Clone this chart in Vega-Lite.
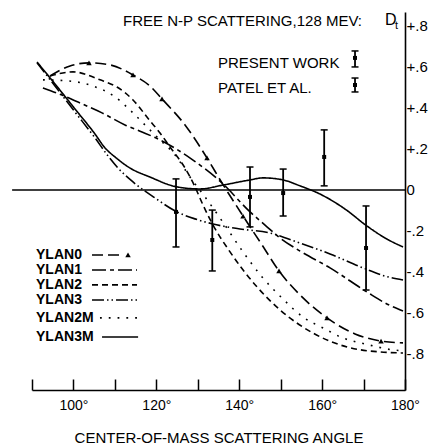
{
  "$schema": "https://vega.github.io/schema/vega-lite/v6.json",
  "width": 373,
  "height": 378,
  "autosize": {"type": "none"},
  "padding": {"left": 32, "right": 26, "top": 12, "bottom": 54},
  "background": "white",
  "config": {
    "view": {"stroke": null},
    "font": "Liberation Sans",
    "axis": {"grid": false, "domainColor": "black", "tickColor": "black", "labelColor": "black", "titleColor": "black"}
  },
  "datasets": {
    "curves": [
      {"series": "YLAN0", "angle": 94.34, "D": 0.556}, {"series": "YLAN0", "angle": 99.17, "D": 0.605}, {"series": "YLAN0", "angle": 103.75, "D": 0.62}, {"series": "YLAN0", "angle": 108.82, "D": 0.61}, {"series": "YLAN0", "angle": 114.37, "D": 0.561}, {"series": "YLAN0", "angle": 118.47, "D": 0.507}, {"series": "YLAN0", "angle": 121.37, "D": 0.444}, {"series": "YLAN0", "angle": 126.92, "D": 0.317}, {"series": "YLAN0", "angle": 132.23, "D": 0.156}, {"series": "YLAN0", "angle": 135.85, "D": 0.034}, {"series": "YLAN0", "angle": 140.92, "D": -0.127}, {"series": "YLAN0", "angle": 145.5, "D": -0.268}, {"series": "YLAN0", "angle": 149.6, "D": -0.395}, {"series": "YLAN0", "angle": 154.67, "D": -0.512}, {"series": "YLAN0", "angle": 161.19, "D": -0.624}, {"series": "YLAN0", "angle": 167.94, "D": -0.702}, {"series": "YLAN0", "angle": 174.22, "D": -0.737}, {"series": "YLAN0", "angle": 179.52, "D": -0.746},
      {"series": "YLAN1", "angle": 92.65, "D": 0.498}, {"series": "YLAN1", "angle": 97.24, "D": 0.463}, {"series": "YLAN1", "angle": 102.07, "D": 0.42}, {"series": "YLAN1", "angle": 106.89, "D": 0.376}, {"series": "YLAN1", "angle": 112.44, "D": 0.317}, {"series": "YLAN1", "angle": 116.54, "D": 0.283}, {"series": "YLAN1", "angle": 120.89, "D": 0.244}, {"series": "YLAN1", "angle": 128.85, "D": 0.146}, {"series": "YLAN1", "angle": 135.85, "D": 0.034}, {"series": "YLAN1", "angle": 142.61, "D": -0.107}, {"series": "YLAN1", "angle": 146.23, "D": -0.171}, {"series": "YLAN1", "angle": 149.85, "D": -0.234}, {"series": "YLAN1", "angle": 154.67, "D": -0.298}, {"series": "YLAN1", "angle": 161.91, "D": -0.38}, {"series": "YLAN1", "angle": 170.84, "D": -0.498}, {"series": "YLAN1", "angle": 175.18, "D": -0.551}, {"series": "YLAN1", "angle": 179.52, "D": -0.59},
      {"series": "YLAN2", "angle": 94.34, "D": 0.556}, {"series": "YLAN2", "angle": 99.89, "D": 0.576}, {"series": "YLAN2", "angle": 106.41, "D": 0.537}, {"series": "YLAN2", "angle": 110.51, "D": 0.502}, {"series": "YLAN2", "angle": 114.37, "D": 0.439}, {"series": "YLAN2", "angle": 118.47, "D": 0.337}, {"series": "YLAN2", "angle": 120.89, "D": 0.278}, {"series": "YLAN2", "angle": 123.3, "D": 0.21}, {"series": "YLAN2", "angle": 126.92, "D": 0.107}, {"series": "YLAN2", "angle": 129.33, "D": 0.015}, {"series": "YLAN2", "angle": 131.26, "D": -0.073}, {"series": "YLAN2", "angle": 133.68, "D": -0.171}, {"series": "YLAN2", "angle": 137.78, "D": -0.302}, {"series": "YLAN2", "angle": 144.3, "D": -0.473}, {"series": "YLAN2", "angle": 149.85, "D": -0.585}, {"series": "YLAN2", "angle": 157.81, "D": -0.698}, {"series": "YLAN2", "angle": 166.01, "D": -0.766}, {"series": "YLAN2", "angle": 173.98, "D": -0.79}, {"series": "YLAN2", "angle": 179.52, "D": -0.795},
      {"series": "YLAN3", "angle": 91.21, "D": 0.62}, {"series": "YLAN3", "angle": 95.55, "D": 0.507}, {"series": "YLAN3", "angle": 100.38, "D": 0.38}, {"series": "YLAN3", "angle": 105.2, "D": 0.254}, {"series": "YLAN3", "angle": 108.34, "D": 0.166}, {"series": "YLAN3", "angle": 110.75, "D": 0.107}, {"series": "YLAN3", "angle": 114.37, "D": 0.039}, {"series": "YLAN3", "angle": 119.68, "D": -0.039}, {"series": "YLAN3", "angle": 124.99, "D": -0.107}, {"series": "YLAN3", "angle": 129.33, "D": -0.141}, {"series": "YLAN3", "angle": 133.68, "D": -0.166}, {"series": "YLAN3", "angle": 140.19, "D": -0.19}, {"series": "YLAN3", "angle": 147.43, "D": -0.21}, {"series": "YLAN3", "angle": 154.67, "D": -0.259}, {"series": "YLAN3", "angle": 161.91, "D": -0.312}, {"series": "YLAN3", "angle": 169.87, "D": -0.38}, {"series": "YLAN3", "angle": 175.18, "D": -0.42}, {"series": "YLAN3", "angle": 179.52, "D": -0.439},
      {"series": "YLAN2M", "angle": 92.65, "D": 0.537}, {"series": "YLAN2M", "angle": 98.69, "D": 0.532}, {"series": "YLAN2M", "angle": 104.72, "D": 0.507}, {"series": "YLAN2M", "angle": 110.03, "D": 0.454}, {"series": "YLAN2M", "angle": 113.65, "D": 0.39}, {"series": "YLAN2M", "angle": 117.27, "D": 0.317}, {"series": "YLAN2M", "angle": 120.89, "D": 0.244}, {"series": "YLAN2M", "angle": 124.51, "D": 0.171}, {"series": "YLAN2M", "angle": 128.13, "D": 0.063}, {"series": "YLAN2M", "angle": 132.47, "D": -0.054}, {"series": "YLAN2M", "angle": 135.85, "D": -0.151}, {"series": "YLAN2M", "angle": 140.92, "D": -0.302}, {"series": "YLAN2M", "angle": 145.5, "D": -0.424}, {"series": "YLAN2M", "angle": 150.33, "D": -0.527}, {"series": "YLAN2M", "angle": 155.4, "D": -0.62}, {"series": "YLAN2M", "angle": 160.22, "D": -0.673}, {"series": "YLAN2M", "angle": 165.05, "D": -0.722}, {"series": "YLAN2M", "angle": 170.36, "D": -0.751}, {"series": "YLAN2M", "angle": 177.11, "D": -0.78}, {"series": "YLAN2M", "angle": 179.52, "D": -0.785},
      {"series": "YLAN3M", "angle": 91.21, "D": 0.624}, {"series": "YLAN3M", "angle": 95.55, "D": 0.517}, {"series": "YLAN3M", "angle": 100.38, "D": 0.395}, {"series": "YLAN3M", "angle": 105.2, "D": 0.273}, {"series": "YLAN3M", "angle": 107.62, "D": 0.205}, {"series": "YLAN3M", "angle": 110.03, "D": 0.161}, {"series": "YLAN3M", "angle": 113.65, "D": 0.107}, {"series": "YLAN3M", "angle": 118.47, "D": 0.063}, {"series": "YLAN3M", "angle": 124.99, "D": 0.015}, {"series": "YLAN3M", "angle": 130.54, "D": 0.005}, {"series": "YLAN3M", "angle": 136.09, "D": 0.024}, {"series": "YLAN3M", "angle": 142.61, "D": 0.049}, {"series": "YLAN3M", "angle": 145.74, "D": 0.059}, {"series": "YLAN3M", "angle": 150.57, "D": 0.049}, {"series": "YLAN3M", "angle": 154.67, "D": 0.02}, {"series": "YLAN3M", "angle": 159.5, "D": -0.02}, {"series": "YLAN3M", "angle": 165.53, "D": -0.093}, {"series": "YLAN3M", "angle": 170.84, "D": -0.176}, {"series": "YLAN3M", "angle": 175.18, "D": -0.234}, {"series": "YLAN3M", "angle": 179.52, "D": -0.278}
    ],
    "triangles": [
      {"angle": 103.75, "D": 0.62}, {"angle": 114.37, "D": 0.561}, {"angle": 121.37, "D": 0.444}, {"angle": 132.23, "D": 0.156}, {"angle": 140.92, "D": -0.127}, {"angle": 149.6, "D": -0.395}, {"angle": 161.19, "D": -0.624}, {"angle": 174.22, "D": -0.737}, {"angle": 113.17, "D": -0.317}
    ],
    "errbars": [
      {"angle": 124.75, "D": -0.107, "lo": -0.278, "hi": 0.054},
      {"angle": 133.5, "D": -0.244, "lo": -0.395, "hi": -0.098},
      {"angle": 142.6, "D": -0.034, "lo": -0.18, "hi": 0.112},
      {"angle": 150.6, "D": -0.015, "lo": -0.127, "hi": 0.102},
      {"angle": 160.5, "D": 0.161, "lo": 0.02, "hi": 0.293},
      {"angle": 170.6, "D": -0.283, "lo": -0.488, "hi": -0.078},
      {"angle": 167.94, "D": 0.644, "lo": 0.6, "hi": 0.678},
      {"angle": 167.94, "D": 0.512, "lo": 0.478, "hi": 0.546}
    ],
    "legendLines": [
      {"series": "YLAN0", "angle": 104.48, "angle2": 111.24, "D": -0.317},
      {"series": "YLAN1", "angle": 104.48, "angle2": 115.34, "D": -0.39},
      {"series": "YLAN2", "angle": 104.48, "angle2": 115.34, "D": -0.463},
      {"series": "YLAN3", "angle": 104.48, "angle2": 115.34, "D": -0.537},
      {"series": "YLAN2M", "angle": 106.4, "angle2": 115.34, "D": -0.624},
      {"series": "YLAN3M", "angle": 106.9, "angle2": 115.6, "D": -0.717}
    ],
    "legendNames": [
      {"angle": 90.97, "D": -0.317, "text": "YLAN0"},
      {"angle": 90.97, "D": -0.39, "text": "YLAN1"},
      {"angle": 90.97, "D": -0.463, "text": "YLAN2"},
      {"angle": 90.97, "D": -0.537, "text": "YLAN3"},
      {"angle": 90.97, "D": -0.624, "text": "YLAN2M"},
      {"angle": 90.97, "D": -0.717, "text": "YLAN3M"}
    ],
    "keyNames": [
      {"angle": 134.88, "D": 0.62, "text": "PRESENT  WORK"},
      {"angle": 134.88, "D": 0.498, "text": "PATEL  ET  AL."}
    ]
  },
  "encoding": {
    "x": {
      "field": "angle", "type": "quantitative",
      "scale": {"domain": [90, 180], "nice": false, "zero": false},
      "axis": {
        "orient": "bottom",
        "values": [90, 100, 110, 120, 130, 140, 150, 160, 170, 180],
        "labelExpr": "datum.value % 20 == 0 ? datum.value + '°' : ''",
        "tickSize": -11, "tickWidth": 1.5, "domainWidth": 1.6,
        "labelFontSize": 14, "labelPadding": 19, "labelFlush": false, "labelOverlap": false,
        "title": "CENTER-OF-MASS  SCATTERING  ANGLE",
        "titleFontSize": 15, "titleFontWeight": "normal", "titlePadding": 18
      }
    },
    "y": {
      "field": "D", "type": "quantitative",
      "scale": {"domain": [-0.9756, 0.868], "nice": false, "zero": false},
      "axis": {
        "orient": "right",
        "values": [-0.8, -0.6, -0.4, -0.2, 0, 0.2, 0.4, 0.6, 0.8],
        "labelExpr": "datum.value == 0 ? '0' : (datum.value > 0 ? '+' : '-') + '.' + round(abs(datum.value) * 10)",
        "ticks": false, "domainWidth": 1.6,
        "labelFontSize": 15, "labelPadding": 1, "title": null
      }
    }
  },
  "layer": [
    {
      "data": {"values": [{"angle": 85.2, "angle2": 180, "D": 0}]},
      "mark": {"type": "rule", "color": "black", "strokeWidth": 1.6},
      "encoding": {"x2": {"field": "angle2"}}
    },
    {
      "data": {"name": "curves"},
      "mark": {"type": "line", "color": "black", "strokeWidth": 1.6, "interpolate": "monotone"},
      "encoding": {
        "strokeDash": {
          "field": "series", "type": "nominal", "legend": null,
          "scale": {"domain": ["YLAN0", "YLAN1", "YLAN2", "YLAN3", "YLAN2M", "YLAN3M"],
                    "range": [[11, 5], [14, 4, 4, 4], [6, 4], [12, 3, 1.5, 3, 1.5, 3], [1.8, 7], [1, 0]]}
        }
      }
    },
    {
      "data": {"name": "legendLines"},
      "mark": {"type": "rule", "color": "black", "strokeWidth": 1.6},
      "encoding": {
        "x2": {"field": "angle2"},
        "strokeDash": {"field": "series", "type": "nominal", "legend": null}
      }
    },
    {
      "data": {"name": "triangles"},
      "mark": {"type": "point", "shape": "triangle-up", "filled": true, "color": "black", "size": 30, "opacity": 1}
    },
    {
      "data": {"name": "errbars"},
      "mark": {"type": "rule", "color": "black", "strokeWidth": 1.8},
      "encoding": {"y": {"field": "lo", "type": "quantitative"}, "y2": {"field": "hi"}}
    },
    {
      "data": {"name": "errbars"},
      "mark": {"type": "tick", "orient": "horizontal", "color": "black", "size": 7, "thickness": 1.5, "opacity": 1},
      "encoding": {"y": {"field": "lo", "type": "quantitative"}}
    },
    {
      "data": {"name": "errbars"},
      "mark": {"type": "tick", "orient": "horizontal", "color": "black", "size": 7, "thickness": 1.5, "opacity": 1},
      "encoding": {"y": {"field": "hi", "type": "quantitative"}}
    },
    {
      "data": {"name": "errbars"},
      "mark": {"type": "point", "shape": "square", "filled": true, "color": "black", "size": 16, "opacity": 1}
    },
    {
      "data": {"name": "legendNames"},
      "mark": {"type": "text", "align": "left", "baseline": "middle", "fontSize": 14, "fontWeight": "bold", "color": "black"},
      "encoding": {"text": {"field": "text"}}
    },
    {
      "data": {"name": "keyNames"},
      "mark": {"type": "text", "align": "left", "baseline": "middle", "fontSize": 15, "color": "black"},
      "encoding": {"text": {"field": "text"}}
    },
    {
      "data": {"values": [{"angle": 169.63, "D": 0.824, "text": "FREE N-P SCATTERING,128 MEV:"}]},
      "mark": {"type": "text", "align": "right", "baseline": "middle", "fontSize": 15, "color": "black"},
      "encoding": {"text": {"field": "text"}}
    },
    {
      "data": {"values": [{"angle": 175.18, "D": 0.83, "text": "D"}]},
      "mark": {"type": "text", "align": "left", "baseline": "middle", "fontSize": 16, "color": "black"},
      "encoding": {"text": {"field": "text"}}
    },
    {
      "data": {"values": [{"angle": 177.6, "D": 0.8, "text": "t"}]},
      "mark": {"type": "text", "align": "left", "baseline": "middle", "fontSize": 11, "color": "black"},
      "encoding": {"text": {"field": "text"}}
    }
  ]
}
